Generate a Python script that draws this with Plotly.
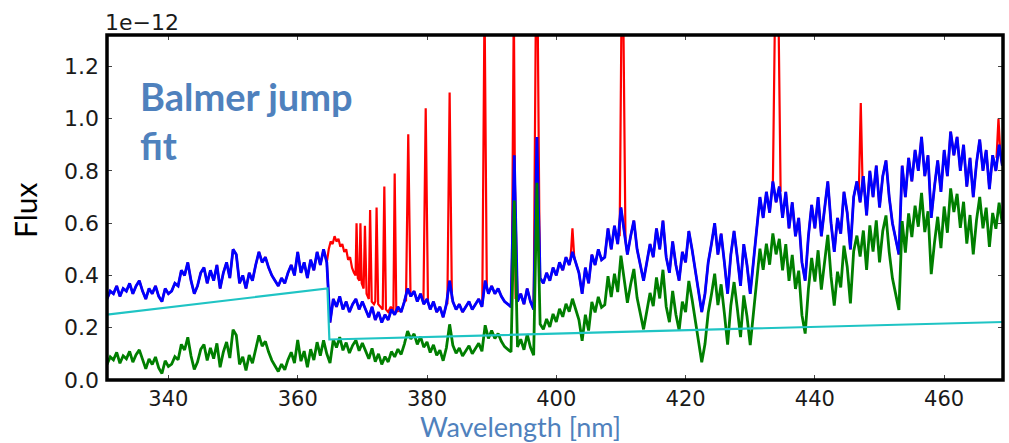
import numpy as np
import plotly.graph_objects as go

# Observed spectrum with emission lines removed (blue), flux in units of 1e-12
WL_START = 330.5
WL_STEP = 0.5
BLUE_FLUX = [
    # 330.5 - 340.0
    0.31, 0.34, 0.33, 0.36, 0.32, 0.35, 0.34, 0.37, 0.33, 0.36, 0.38, 0.34, 0.31, 0.35, 0.33, 0.36, 0.32, 0.30, 0.35, 0.33,
    # 340.5 - 350.0
    0.34, 0.37, 0.36, 0.42, 0.40, 0.45, 0.38, 0.33, 0.36, 0.41, 0.43, 0.37, 0.42, 0.38, 0.44, 0.35, 0.41, 0.45, 0.39, 0.50,
    # 350.5 - 360.0
    0.48, 0.37, 0.40, 0.35, 0.41, 0.38, 0.44, 0.49, 0.45, 0.47, 0.43, 0.40, 0.38, 0.36, 0.39, 0.37, 0.41, 0.44, 0.40, 0.49,
    # 360.5 - 365.0
    0.41, 0.45, 0.39, 0.46, 0.42, 0.49, 0.44, 0.50, 0.45, 0.22,
    # 365.5 - 370.0
    0.31, 0.28, 0.32, 0.27, 0.30, 0.26, 0.29, 0.31, 0.27, 0.30,
    # 370.5 - 380.0
    0.27, 0.24, 0.28, 0.23, 0.26, 0.22, 0.25, 0.23, 0.27, 0.25, 0.28, 0.26, 0.30, 0.35, 0.32, 0.34, 0.30, 0.33, 0.29, 0.31,
    # 380.5 - 390.0
    0.27, 0.30, 0.26, 0.28, 0.24, 0.29, 0.38, 0.30, 0.27, 0.29, 0.26, 0.28, 0.30, 0.27, 0.29, 0.31, 0.28, 0.38, 0.33, 0.36,
    # 390.5 - 400.0
    0.33, 0.35, 0.32, 0.30, 0.29, 0.28, 0.86, 0.30, 0.33, 0.29, 0.35, 0.30, 0.27, 0.93, 0.39, 0.37, 0.41, 0.38, 0.43, 0.40,
    # 400.5 - 410.0
    0.45, 0.42, 0.47, 0.44, 0.49, 0.45, 0.41, 0.33, 0.43, 0.37, 0.48, 0.44, 0.50, 0.46, 0.47, 0.58, 0.50, 0.59, 0.52, 0.66,
    # 410.5 - 420.0
    0.56, 0.48, 0.55, 0.61, 0.50, 0.44, 0.38, 0.45, 0.52, 0.47, 0.58, 0.50, 0.61, 0.47, 0.41, 0.53, 0.44, 0.38, 0.49, 0.45,
    # 420.5 - 430.0
    0.57, 0.50, 0.42, 0.35, 0.26, 0.33, 0.45, 0.52, 0.60, 0.48, 0.56, 0.45, 0.33, 0.48, 0.57, 0.47, 0.36, 0.52, 0.44, 0.33,
    # 430.5 - 440.0
    0.45, 0.56, 0.70, 0.62, 0.72, 0.64, 0.76, 0.68, 0.74, 0.62, 0.72, 0.58, 0.68, 0.55, 0.62, 0.45, 0.38, 0.55, 0.67, 0.58,
    # 440.5 - 450.0
    0.70, 0.55, 0.66, 0.76, 0.60, 0.49, 0.62, 0.56, 0.72, 0.64, 0.50, 0.70, 0.76, 0.68, 0.78, 0.63, 0.80, 0.70, 0.82, 0.66,
    # 450.5 - 460.0
    0.78, 0.84, 0.70, 0.60, 0.54, 0.48, 0.82, 0.70, 0.85, 0.76, 0.88, 0.80, 0.93, 0.78, 0.86, 0.62, 0.74, 0.84, 0.72, 0.88,
    # 460.5 - 469.0
    0.78, 0.95, 0.86, 0.93, 0.80, 0.90, 0.74, 0.85, 0.70, 0.83, 0.92, 0.80, 0.88, 0.73, 0.86, 0.80, 0.90, 0.82,
]

# Full observed spectrum where it differs from the blue one (Balmer continuum + emission lines)
RED_WL = [
    364.5, 364.8, 365.1, 365.4, 365.7, 366.0, 366.3, 366.6, 366.9, 367.2, 367.5, 367.8, 368.1, 368.4, 368.7,
    368.95, 369.1, 369.3, 369.55, 369.7, 369.9, 370.2, 370.4, 370.65, 371.0, 371.2, 371.45, 371.8, 372.0,
    372.2, 372.45, 372.8, 373.15, 373.4, 373.65, 374.0, 374.4, 374.8, 375.0, 375.25, 375.6, None,
    376.75, 377.1, 377.45, None,
    379.45, 379.8, 380.15, None,
    383.15, 383.5, 383.85, None,
    388.55, 388.9, 389.25, None,
    393.1, 393.37, 393.43, 393.7, None,
    396.5, 396.85, 397.1, 397.45, None,
    402.2, 402.5, 402.8, None,
    409.8, 410.1, 410.35, 410.7, None,
    433.5, 433.85, 434.35, 434.7, None,
    446.8, 447.1, 447.4, None,
    468.1, 468.4, 468.7,
]
RED_FLUX = [
    0.45, 0.50, 0.53, 0.52, 0.55, 0.53, 0.54, 0.51, 0.52, 0.49, 0.50, 0.46, 0.47, 0.43, 0.41,
    0.40, 0.60, 0.39, 0.38, 0.60, 0.37, 0.35, 0.59, 0.33, 0.31, 0.65, 0.30, 0.29, 0.30,
    0.66, 0.29, 0.28, 0.27, 0.74, 0.27, 0.26, 0.28, 0.26, 0.79, 0.27, 0.26, None,
    0.30, 0.94, 0.32, None,
    0.30, 1.04, 0.30, None,
    0.29, 1.10, 0.31, None,
    0.29, 1.45, 0.36, None,
    0.29, 1.45, 1.45, 0.31, None,
    0.28, 1.45, 1.45, 0.40, None,
    0.46, 0.58, 0.46, None,
    0.55, 1.45, 1.45, 0.54, None,
    0.74, 1.45, 1.45, 0.72, None,
    0.72, 1.06, 0.72, None,
    0.85, 1.00, 0.86,
]

# Balmer jump fit
FIT_WL = [330.5, 364.6, 364.9, 469.1]
FIT_FLUX = [0.25, 0.35, 0.155, 0.222]

X_RANGE = [330.5, 469.1]
Y_RANGE = [0.0, 1.32]
Y_TICKS = [0.0, 0.2, 0.4, 0.6, 0.8, 1.0, 1.2]
X_TICKS = [340, 360, 380, 400, 420, 440, 460]

wl = WL_START + WL_STEP * np.arange(len(BLUE_FLUX))
blue = np.array(BLUE_FLUX)
green = blue - np.interp(wl, FIT_WL, FIT_FLUX)  # residual: spectrum minus fit

fig = go.Figure()
fig.add_trace(go.Scatter(x=wl, y=blue, mode="lines", line=dict(color="#ff0000", width=2.2), hoverinfo="skip"))
fig.add_trace(go.Scatter(x=RED_WL, y=RED_FLUX, mode="lines", line=dict(color="#ff0000", width=2.2),
                         connectgaps=False))
fig.add_trace(go.Scatter(x=wl, y=blue, mode="lines", line=dict(color="#0000ff", width=2.8)))
fig.add_trace(go.Scatter(x=wl, y=green, mode="lines", line=dict(color="#007f00", width=2.8)))
fig.add_trace(go.Scatter(x=FIT_WL, y=FIT_FLUX, mode="lines", line=dict(color="#1fc4c4", width=2.2)))

tickfont = dict(family="DejaVu Sans", size=22, color="#1a1a1a")
fig.update_xaxes(range=X_RANGE, tickvals=X_TICKS, ticks="inside", ticklen=5, tickwidth=1,
                 tickcolor="#444", mirror="ticks", showline=False, showgrid=False, zeroline=False,
                 tickfont=dict(family="DejaVu Sans", size=21, color="#1a1a1a"), ticklabelstandoff=4)
fig.update_yaxes(range=Y_RANGE, tickvals=Y_TICKS, tickformat=".1f", ticks="inside", ticklen=5, tickwidth=1,
                 tickcolor="#444", mirror="ticks", showline=False, showgrid=False, zeroline=False,
                 tickfont=tickfont, ticklabelstandoff=7)

fig.add_shape(type="rect", xref="paper", yref="paper", x0=0, x1=1, y0=0, y1=1,
              line=dict(color="black", width=3.5), layer="above")

txt_blue = "#4f81bd"
fig.add_annotation(text="1e\u221212", xref="paper", yref="paper", x=-0.004, y=1, xanchor="left",
                   yanchor="bottom", showarrow=False, font=dict(family="DejaVu Sans", size=22, color="#1a1a1a"),
                   yshift=-2)
fig.add_annotation(text="Flux", xref="paper", yref="paper", x=-0.0915, y=0.493, textangle=-90,
                   xanchor="center", yanchor="middle",
                   showarrow=False, font=dict(family="Lato", size=30, color="black"))
fig.add_annotation(text="Wavelength [nm]", xref="paper", yref="paper", x=0.461, y=-0.136,
                   xanchor="center", yanchor="middle",
                   showarrow=False, font=dict(family="Lato", size=27, color=txt_blue))
fig.add_annotation(text="<b>Balmer jump</b><br><b>fit</b>", xref="paper", yref="paper", x=0.035, y=0.895,
                   xanchor="left", yanchor="top", align="left", showarrow=False,
                   font=dict(family="Lato", size=38, color=txt_blue))

fig.update_layout(width=1009, height=443, margin=dict(l=107, r=6, t=35, b=63),
                  plot_bgcolor="white", paper_bgcolor="white", showlegend=False)
fig.write_html("out.html")
